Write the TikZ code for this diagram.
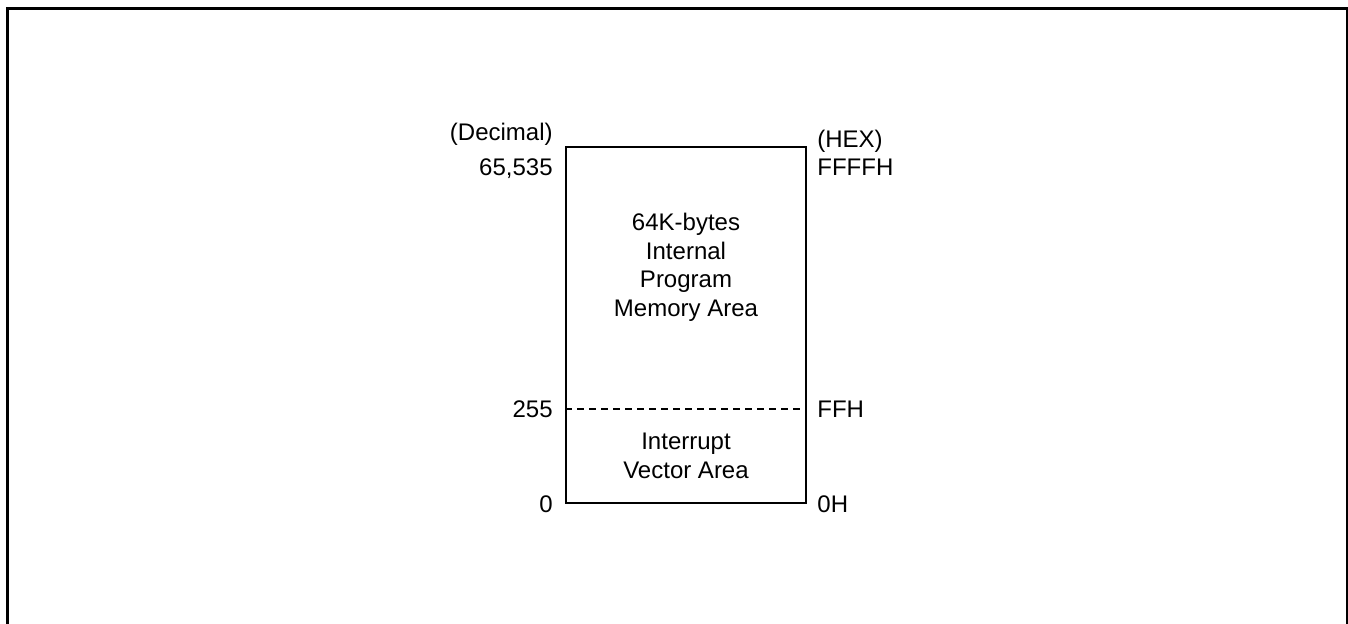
\documentclass[tikz,border=0pt]{standalone}
\usepackage{fontspec}
\setmainfont{Liberation Sans}
\usetikzlibrary{positioning}
\tikzstyle{region} = [rectangle, draw, line width=1pt,
    minimum width=120pt, minimum height=178pt, inner sep=0pt]
\tikzstyle{addr} = [inner sep=0pt]
\tikzstyle{area} = [inner sep=0pt, align=center]

\begin{document}
\begin{tikzpicture}[x=0.5pt,y=-0.5pt,
                    font=\fontsize{12}{14.25}\selectfont]
  \useasboundingbox (0,0) rectangle (1348,624);
  \draw[line width=1.5pt] (7,640) -- (7,9) -- (1347,9) -- (1347,640);

  \node[region] (mem) at (686,325) {};
  \coordinate (ffl) at (mem.west |- 0,409);
  \coordinate (ffr) at (mem.east |- 0,409);
  \draw[line width=0.8pt,dash pattern=on 3.5pt off 2.5pt] (ffl) -- (ffr);

  \node[area,anchor=north] (prog) at (686,213) {64K-bytes\\Internal\\Program\\Memory Area};
  \node[area,anchor=north] (vect) at (686,433) {Interrupt\\Vector Area};

  \node[addr,anchor=base east] (dec)  at (553,141) {(Decimal)};
  \node[addr,anchor=base east] (top)  at (553,176) {65,535};
  \node[addr,anchor=base east] (ff)   at (553,418) {255};
  \node[addr,anchor=base east] (zero) at (553,512) {0};
  \node[addr,anchor=base west] (hex)  at (817,148) {(HEX)};
  \node[addr,anchor=base west] (topH) at (817,176) {FFFFH};
  \node[addr,anchor=base west] (ffH)  at (817,418) {FFH};
  \node[addr,anchor=base west] (zeroH) at (817,512) {0H};
\end{tikzpicture}
\end{document}
